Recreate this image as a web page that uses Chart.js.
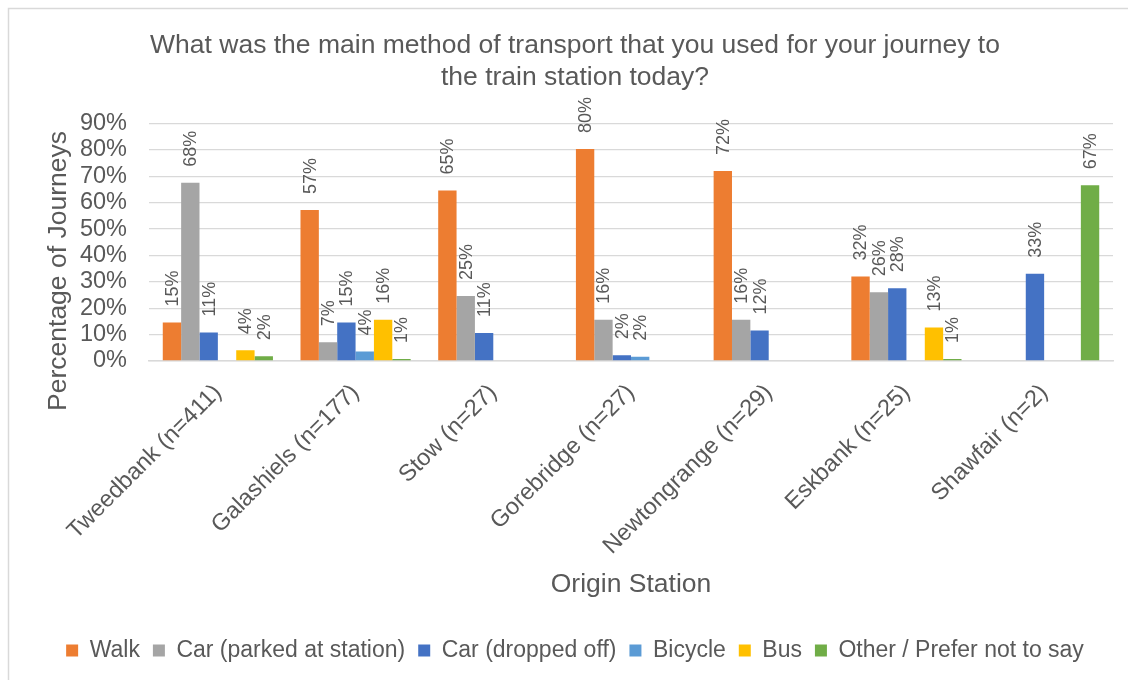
<!DOCTYPE html>
<html>
<head>
<meta charset="utf-8">
<script src="https://cdn.jsdelivr.net/npm/chart.js@4.4.1/dist/chart.umd.min.js"></script>
<style>
  html, body { margin: 0; padding: 0; background: #ffffff; overflow: hidden; }
  #wrap { width: 1128px; height: 680px; position: relative; }
</style>
</head>
<body>
<div id="wrap"><canvas id="c" width="1128" height="680"></canvas></div>
<script>
const titleLines = ['What was the main method of transport that you used for your journey to', 'the train station today?'];
const categories = ['Tweedbank (n=411)', 'Galashiels (n=177)', 'Stow (n=27)', 'Gorebridge (n=27)', 'Newtongrange (n=29)', 'Eskbank (n=25)', 'Shawfair (n=2)'];
const seriesNames = ['Walk', 'Car (parked at station)', 'Car (dropped off)', 'Bicycle', 'Bus', 'Other / Prefer not to say'];
const walk        = [14.6, 57.2, 64.6, 80.4, 72.0, 32.0, 0];
const carParked   = [67.6, 7.1, 24.6, 15.6, 15.6, 26.1, 0];
const carDropped  = [10.8, 14.6, 10.6, 2.2, 11.6, 27.6, 33.1];
const bicycle     = [0, 3.6, 0, 1.6, 0, 0, 0];
const bus         = [4.1, 15.6, 0, 0, 0, 12.7, 0];
const other       = [1.8, 0.8, 0, 0, 0, 0.8, 66.6];
const yTicks = [0, 10, 20, 30, 40, 50, 60, 70, 80, 90];
const xTitle = 'Origin Station';
const yTitle = 'Percentage of Journeys';
const colors = ['#ED7D31', '#A5A5A5', '#4472C4', '#5B9BD5', '#FFC000', '#70AD47'];

const FONT = '"Liberation Sans", Arial, sans-serif';
const TEXT = '#595959';

const seriesValues = [walk, carParked, carDropped, bicycle, bus, other];
const datasets = seriesNames.map((name, i) => ({
  label: name,
  data: seriesValues[i],
  backgroundColor: colors[i],
  borderWidth: 0,
  categoryPercentage: 0.8,
  barPercentage: 1.0
}));

const framePlugin = {
  id: 'frame',
  beforeDraw(chart) {
    const ctx = chart.ctx;
    ctx.save();
    ctx.fillStyle = '#ffffff';
    ctx.fillRect(0, 0, chart.width, chart.height);
    ctx.strokeStyle = '#d9d9d9';
    ctx.lineWidth = 1.5;
    ctx.beginPath();
    ctx.moveTo(8.5, chart.height);
    ctx.lineTo(8.5, 8.5);
    ctx.lineTo(chart.width, 8.5);
    ctx.stroke();
    ctx.restore();
  }
};

const yTitlePlugin = {
  id: 'yTitle',
  afterDraw(chart) {
    const ctx = chart.ctx;
    ctx.save();
    ctx.translate(59, 271);
    ctx.rotate(-Math.PI / 2);
    ctx.font = '26.5px ' + FONT;
    ctx.fillStyle = TEXT;
    ctx.textAlign = 'center';
    ctx.textBaseline = 'middle';
    ctx.fillText(yTitle, 0, 0);
    ctx.restore();
  }
};

const labelPlugin = {
  id: 'barLabels',
  afterDatasetsDraw(chart) {
    const ctx = chart.ctx;
    ctx.save();
    ctx.font = '18px ' + FONT;
    ctx.fillStyle = TEXT;
    ctx.textAlign = 'left';
    ctx.textBaseline = 'middle';
    chart.data.datasets.forEach((ds, di) => {
      const meta = chart.getDatasetMeta(di);
      meta.data.forEach((el, i) => {
        const v = ds.data[i];
        if (!v) return;
        ctx.save();
        ctx.translate(el.x + 1, el.y - 16);
        ctx.rotate(-Math.PI / 2);
        ctx.fillText(Math.round(v) + '%', 0, 0);
        ctx.restore();
      });
    });
    ctx.restore();
  }
};

new Chart(document.getElementById('c'), {
  type: 'bar',
  data: { labels: categories, datasets },
  options: {
    responsive: false,
    animation: false,
    devicePixelRatio: 1,
    layout: { padding: { left: 37, right: 15, top: 0, bottom: 8 } },
    plugins: {
      title: {
        display: true,
        text: titleLines,
        color: TEXT,
        font: { family: FONT, size: 26.5, weight: 'normal', lineHeight: 1.2 },
        padding: { top: 30, bottom: 30 }
      },
      legend: {
        position: 'bottom',
        labels: {
          color: TEXT,
          font: { family: FONT, size: 23 },
          boxWidth: 12,
          boxHeight: 12,
          padding: 13
        }
      },
      tooltip: { enabled: false }
    },
    scales: {
      x: {
        grid: { display: false },
        border: { display: true, color: '#d9d9d9', width: 1.5 },
        ticks: {
          color: TEXT,
          font: { family: FONT, size: 23.5 },
          maxRotation: 45,
          minRotation: 45,
          padding: 10
        },
        title: {
          display: true,
          text: xTitle,
          color: TEXT,
          font: { family: FONT, size: 26.5 },
          padding: { top: 4, bottom: 25 }
        },
        afterFit(scale) { scale.height = 265; }
      },
      y: {
        min: 0,
        max: 90,
        afterBuildTicks(scale) { scale.ticks = yTicks.map(v => ({ value: v })); },
        ticks: {
          color: TEXT,
          font: { family: FONT, size: 23.5 },
          padding: 22,
          autoSkip: false,
          callback: v => v + '%'
        },
        grid: { color: '#d9d9d9', lineWidth: 1.3, drawTicks: false },
        border: { display: false },
        afterFit(scale) { scale.width = 112; }
      }
    }
  },
  plugins: [framePlugin, labelPlugin, yTitlePlugin]
});
</script>
</body>
</html>
